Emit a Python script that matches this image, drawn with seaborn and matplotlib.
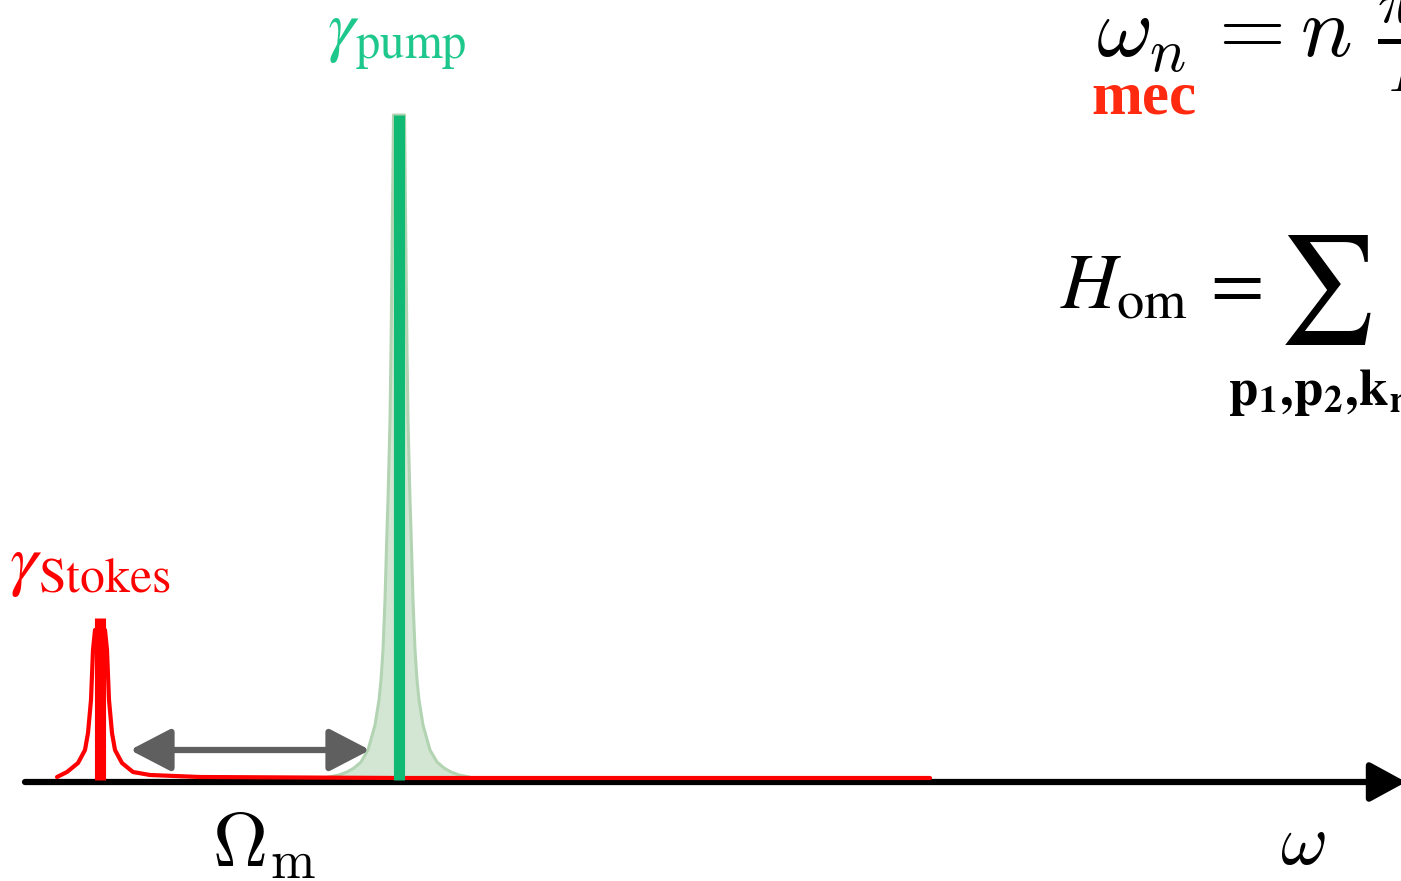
import numpy as np
import seaborn as sns
import matplotlib.pyplot as plt

# spectrum schematic: pump line (green) and Stokes line (red) on a frequency axis
# x = frequency (arb. units, ~pixel scale), y = intensity above the axis

# pump peak
pump_center = 399
pump_height = 665
# half profile of the broad green (shaded) pump line
pump_offsets = [5.5, 6, 7, 8, 9, 10, 11, 12, 13, 14, 16, 18, 20, 24, 31, 38, 45, 52, 60, 70, 80]
pump_profile = [665, 620, 520, 430, 360, 320, 280, 250, 215, 180, 130, 100, 80, 55, 30, 18, 12, 8, 5, 3, 0]

# Stokes peak
stokes_center = 100
stokes_height = 162
# red outline of the Stokes line (left tail, peak, long right tail)
stokes_x = [57, 67, 78, 85, 88, 91, 93, 95, 105, 107, 109, 112, 115, 122, 133, 150, 200, 400, 930]
stokes_y = [3, 8, 17, 30, 47, 80, 130, 150, 150, 130, 80, 47, 30, 17, 8, 5, 3, 2, 2]

# Omega_m arrow between the two lines
omega_m_start = 130
omega_m_end = 370
omega_m_level = 30

sns.set_style('white')
plt.rcParams['mathtext.fontset'] = 'stix'

fig = plt.figure(figsize=(14.01, 8.81), dpi=100)
ax = fig.add_axes([0, 0, 1, 1])
ax.set_xlim(0, 1401)
ax.set_ylim(-101, 780)
ax.axis('off')

# shaded pump profile
off = np.array(pump_offsets)
prof = np.array(pump_profile)
gx = np.concatenate([pump_center - off[::-1], pump_center + off])
gy = np.concatenate([prof[::-1], prof])
ax.fill_between(gx, 0, gy, color='#d3e6d3', lw=0, zorder=1)
sns.lineplot(x=gx, y=gy, color='#b3d4b3', lw=2.2, sort=False, ax=ax, zorder=2)

# Stokes outline
sns.lineplot(x=stokes_x, y=stokes_y, color='#ff0000', lw=3, sort=False, ax=ax, zorder=3)

# narrow lines as thick bars
ax.vlines(pump_center, 0, pump_height, color='#10b974', lw=8, zorder=4)
ax.vlines(stokes_center, 0, stokes_height, color='#ff0000', lw=8, zorder=4)

# frequency axis
ax.annotate('', xy=(1406, -2), xytext=(25, -2), annotation_clip=False,
            arrowprops=dict(arrowstyle='-|>,head_length=1.1,head_width=0.6',
                            mutation_scale=20, lw=4.5, color='black',
                            shrinkA=0, shrinkB=0), zorder=2)

# Omega_m double arrow
ax.annotate('', xy=(omega_m_end, omega_m_level), xytext=(omega_m_start, omega_m_level),
            arrowprops=dict(arrowstyle='<|-|>,head_length=1.25,head_width=0.65',
                            mutation_scale=20, lw=4.5, color='#5f5f5f',
                            shrinkA=0, shrinkB=0), zorder=5)

# labels
ax.text(327, 775, r'$\gamma_{\mathrm{pump}}$', color='#1ec88c', fontsize=50, ha='left', va='top')
ax.text(9, 250, r'$\gamma_{\mathrm{Stokes}}$', color='#ff0000', fontsize=51, ha='left', va='top')
ax.text(212, -28, r'$\Omega_{\mathrm{m}}$', color='black', fontsize=55, ha='left', va='top',
        math_fontfamily='cm')
ax.text(1280, -30, r'$\omega$', color='black', fontsize=52, ha='left', va='top',
        math_fontfamily='cm')

# formulas on the right (cut by the figure edge)
ax.text(1096, 735, r'$\omega_n\, = n\ \frac{\pi v}{L}$', color='black', fontsize=62,
        ha='left', va='center', math_fontfamily='cm')
ax.text(1091, 682, 'mec', color='#ff2a10', fontsize=44, fontweight='bold',
        family='Liberation Serif', ha='left', va='center')
ax.text(1060, 494, r'$H_{\mathrm{om}}\,=$', color='black', fontsize=56, ha='left', va='center')
ax.text(1278, 490, r'$\sum$', color='black', fontsize=77, ha='left', va='center')
ax.text(1228, 388, r'$\mathbf{p_1,\!p_2,\!k_m}$', color='black', fontsize=38, ha='left', va='center')

fig.savefig('out.png', dpi=100)
